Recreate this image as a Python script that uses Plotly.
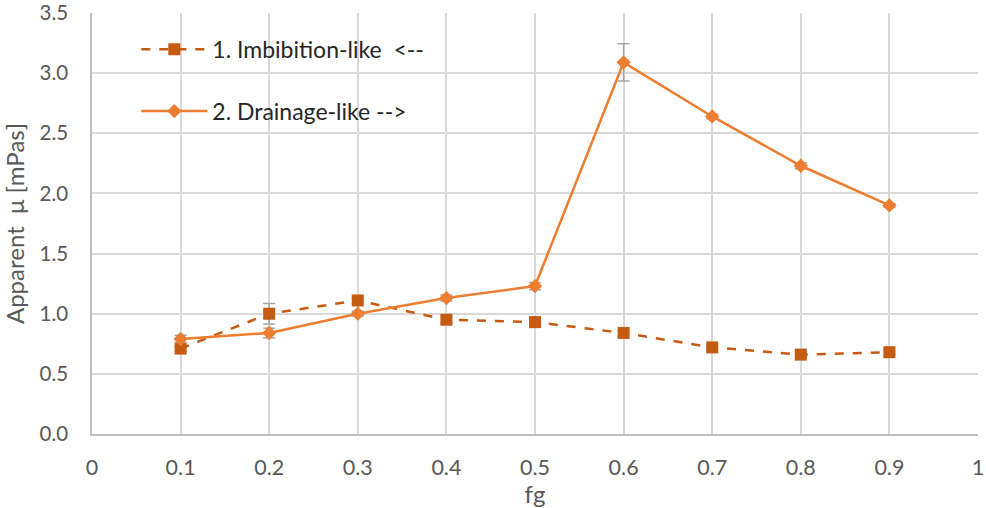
import plotly.graph_objects as go

# Foam apparent viscosity vs gas fraction for the two scan directions
fg = [0.1, 0.2, 0.3, 0.4, 0.5, 0.6, 0.7, 0.8, 0.9]

imbibition_mu = [0.71, 1.00, 1.11, 0.95, 0.93, 0.84, 0.72, 0.66, 0.68]
imbibition_err = [0.02, 0.085, 0.02, 0.03, 0.02, 0.02, 0.015, 0.015, 0.015]

drainage_mu = [0.79, 0.84, 1.00, 1.13, 1.23, 3.09, 2.64, 2.23, 1.90]
drainage_err = [0.03, 0.04, 0.02, 0.025, 0.03, 0.155, 0.02, 0.025, 0.015]

x_ticks = [0, 0.1, 0.2, 0.3, 0.4, 0.5, 0.6, 0.7, 0.8, 0.9, 1]
x_tick_text = ["0", "0.1", "0.2", "0.3", "0.4", "0.5", "0.6", "0.7", "0.8", "0.9", "1"]
y_ticks = [0, 0.5, 1.0, 1.5, 2.0, 2.5, 3.0, 3.5]
y_tick_text = ["0.0", "0.5", "1.0", "1.5", "2.0", "2.5", "3.0", "3.5"]

FONT = "Lato"
TEXT_COLOR = "#595959"
ERR_COLOR = "#A5A5A5"

fig = go.Figure()

fig.add_trace(go.Scatter(
    x=fg, y=imbibition_mu,
    name="1. Imbibition-like  <--",
    legendgroup="imb",
    mode="lines+markers",
    line=dict(color="#C55A11", width=2.5, dash="dash"),
    marker=dict(symbol="square", size=12, color="#C55A11"),
    error_y=dict(type="data", array=imbibition_err, visible=True,
                 color=ERR_COLOR, thickness=1.5, width=6),
))

fig.add_trace(go.Scatter(
    x=fg, y=drainage_mu,
    name="2. Drainage-like -->",
    legendgroup="dra",
    mode="lines+markers",
    line=dict(color="#ED7D31", width=2.5),
    marker=dict(symbol="diamond", size=11, color="#ED7D31"),
    error_y=dict(type="data", array=drainage_err, visible=True,
                 color=ERR_COLOR, thickness=1.5, width=6),
))

fig.update_layout(
    width=986, height=508,
    margin=dict(l=92, r=8, t=13, b=74, autoexpand=False),
    paper_bgcolor="white",
    plot_bgcolor="white",
    font=dict(family=FONT, color=TEXT_COLOR, size=21),
    showlegend=True,
    legend=dict(
        x=0.05, y=0.965, xanchor="left", yanchor="top",
        bgcolor="rgba(255,255,255,0)",
        font=dict(family=FONT, size=23, color="#262626"),
        traceorder="grouped",
        tracegroupgap=29,
        itemwidth=66,
    ),
    xaxis=dict(
        range=[0, 1],
        tickmode="array", tickvals=x_ticks, ticktext=x_tick_text,
        showgrid=True, gridcolor="#D9D9D9", gridwidth=2,
        showline=True, linecolor="#BFBFBF", linewidth=1.5,
        zeroline=False, ticks="", ticklen=0,
        ticklabelstandoff=13,
        automargin=False,
        title=dict(text="fg", font=dict(size=24, color=TEXT_COLOR), standoff=8),
        tickfont=dict(size=21.5),
    ),
    yaxis=dict(
        range=[0, 3.5],
        tickmode="array", tickvals=y_ticks, ticktext=y_tick_text,
        showgrid=True, gridcolor="#D9D9D9", gridwidth=2,
        showline=True, linecolor="#BFBFBF", linewidth=1.5,
        zeroline=False, ticks="", ticklen=0,
        ticklabelstandoff=18,
        ticklabeloverflow="allow",
        automargin=False,
        title=dict(text="Apparent  μ [mPas]", font=dict(size=24, color=TEXT_COLOR), standoff=10),
        tickfont=dict(size=20.5),
    ),
)

fig.write_html("out.html")
